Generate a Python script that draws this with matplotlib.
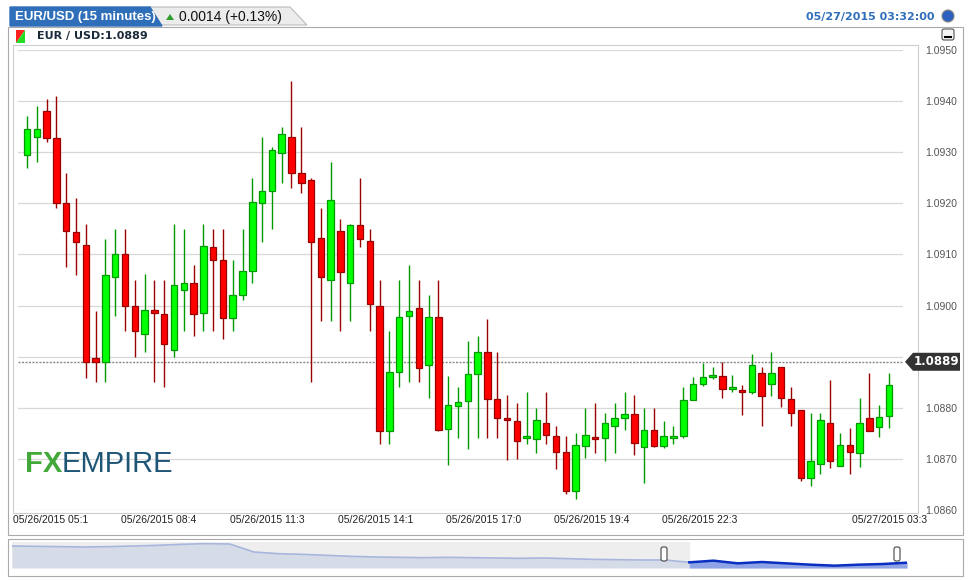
import matplotlib
matplotlib.use("Agg")
import matplotlib.pyplot as plt
from matplotlib.patches import Rectangle, Polygon, FancyBboxPatch, Circle

opens = [1.09295,1.0933,1.0938,1.09328,1.0920,1.09143,1.09118,1.08898,1.0889,1.09055,1.0910,1.0900,1.08945,1.08992,1.08984,1.08914,1.0903,1.09045,1.08986,1.09114,1.0909,1.08976,1.0902,
         1.09067,1.0920,1.09225,1.09298,1.09329,1.09259,1.09246,1.09133,1.0905,1.09145,1.09044,1.09157,1.09127,1.0900,1.08755,1.0887,1.0898,1.08996,1.08884,1.08978,1.08759,1.08804,1.08814,
         1.08867,1.0891,1.08817,1.0878,1.08774,1.0874,1.08739,1.0877,1.08745,1.08714,1.08638,1.08726,1.0874,1.0874,1.08764,1.0878,1.08787,1.08723,1.08756,1.08725,1.0874,1.08745,
         1.08815,1.08846,1.0886,1.08863,1.08836,1.08834,1.0883,1.08869,1.08846,1.08879,1.08818,1.08795,1.08663,1.0869,1.0877,1.08686,1.08727,1.08712,1.0878,1.08762,1.08784]
closes = [1.09345,1.09345,1.09328,1.0920,1.09145,1.09124,1.0889,1.0889,1.0906,1.0910,1.0900,1.0895,1.08992,1.08986,1.08924,1.0904,1.09045,1.08984,1.09116,1.0909,1.08976,1.0902,1.09067,
          1.09202,1.09225,1.09304,1.09335,1.09259,1.0924,1.09124,1.09055,1.09206,1.09065,1.09157,1.0913,1.09003,1.08755,1.0887,1.08978,1.0899,1.08878,1.08978,1.08757,1.08806,1.08812,1.08867,
          1.0891,1.08818,1.0878,1.08776,1.08735,1.08741,1.08776,1.08747,1.08714,1.08638,1.08727,1.08747,1.08739,1.0877,1.0878,1.08787,1.08731,1.08756,1.08725,1.08745,1.08745,1.08815,
          1.08846,1.0886,1.08865,1.08836,1.0884,1.0883,1.08884,1.08824,1.08869,1.0882,1.08789,1.08663,1.08696,1.08776,1.08696,1.08727,1.08714,1.0877,1.08754,1.08782,1.08844]
highs = [1.0937,1.0939,1.09405,1.0941,1.0926,1.0921,1.0916,1.0899,1.0913,1.0915,1.0915,1.0905,1.09061,1.0905,1.0905,1.0916,1.0915,1.0908,1.0916,1.0915,1.0915,1.0909,1.0915,
         1.0925,1.0933,1.0931,1.0935,1.0944,1.0935,1.0925,1.0919,1.0928,1.0917,1.0916,1.0925,1.0915,1.0905,1.0895,1.0905,1.0908,1.0905,1.0902,1.0905,1.08863,1.0884,1.0893,
         1.0894,1.08974,1.0891,1.08825,1.0881,1.0883,1.0880,1.0883,1.08765,1.08745,1.0875,1.0880,1.0881,1.0879,1.0881,1.0883,1.08825,1.0880,1.0880,1.08775,1.08765,1.0884,
         1.0886,1.08888,1.0888,1.0889,1.08865,1.08844,1.08905,1.0888,1.08909,1.08879,1.0884,1.08795,1.0879,1.0879,1.08855,1.08751,1.0876,1.0882,1.08869,1.08805,1.08869]
lows = [1.0927,1.0928,1.0932,1.0919,1.09075,1.0906,1.08858,1.0885,1.0885,1.0898,1.0895,1.0890,1.0891,1.0885,1.0884,1.0890,1.0895,1.0894,1.0895,1.0895,1.08935,1.0895,1.0901,
        1.09044,1.09125,1.0915,1.0924,1.0923,1.0922,1.0885,1.0897,1.0897,1.0895,1.0897,1.09114,1.0895,1.0873,1.0873,1.0884,1.0885,1.0885,1.0882,1.08754,1.08688,1.0874,1.0872,
        1.08741,1.08741,1.08741,1.08697,1.0870,1.0873,1.08712,1.0873,1.08681,1.08631,1.08622,1.08702,1.08712,1.08696,1.08712,1.08756,1.08707,1.08652,1.08723,1.08721,1.0873,1.0874,
        1.08815,1.08843,1.08856,1.0882,1.0883,1.08785,1.08826,1.08765,1.08824,1.08801,1.08765,1.08657,1.08647,1.0867,1.08683,1.08686,1.08671,1.08684,1.08754,1.08743,1.0876]

yticks = [1.0860,1.0870,1.0880,1.0890,1.0900,1.0910,1.0920,1.0930,1.0940,1.0950]
ytick_labels = ["1.0860","1.0870","1.0880","","1.0900","1.0910","1.0920","1.0930","1.0940","1.0950"]
time_labels = ["05/26/2015 05:1","05/26/2015 08:4","05/26/2015 11:3","05/26/2015 14:1",
               "05/26/2015 17:0","05/26/2015 19:4","05/26/2015 22:3","05/27/2015 03:3"]
time_label_idx = [-1.4, 9.6, 20.7, 31.7, 42.8, 53.8, 64.8, 84.2]
last_price = 1.0889
overview = [1.0978,1.0977,1.0976,1.0975,1.0976,1.0978,1.0980,1.0983,1.0985,1.0984,1.0960,1.0955,1.0953,
            1.0950,1.0947,1.0945,1.0944,1.0943,1.0944,1.0943,1.0942,1.0941,1.0942,1.0940,1.0938,1.0937,1.0936,
            1.0936,1.0929,1.0934,1.0926,1.0930,1.0926,1.0922,1.0919,1.0922,1.0924,1.0928]
ov_sel_start = 28

W, H = 970, 581
fig = plt.figure(figsize=(W/100, H/100), dpi=100)
bg = fig.add_axes([0, 0, 1, 1])
bg.set_xlim(0, W); bg.set_ylim(H, 0); bg.axis("off")

# header
bg.add_patch(Polygon([[150,7],[290,7],[307,25],[150,25]], closed=True, fc="#ececec", ec="#bbbbbb", lw=0.8))
bg.add_patch(Polygon([[10,7],[150,7],[162,26],[10,26]], closed=True, fc="#2f6fba", ec="#2f6fba", zorder=3))
bg.text(15, 17, "EUR/USD (15 minutes)", color="white", fontsize=9.5, fontweight="bold", va="center", family="Liberation Sans", zorder=4)
bg.add_patch(Polygon([[166,20],[174,20],[170,14]], closed=True, fc="#2e9e2e", ec="none"))
bg.text(179, 17, "0.0014 (+0.13%)", color="#111111", fontsize=10, va="center", family="Liberation Sans")
bg.text(935, 17, "05/27/2015 03:32:00", color="#2f6fba", fontsize=8, va="center", ha="right", fontweight="bold")
bg.add_patch(Circle((948, 16), 6, fc="#2f5fbf", ec="#888888", lw=0.8))
# main panel
bg.add_patch(Rectangle((8, 27), 955, 508, fc="white", ec="#aaaaaa", lw=0.8))
bg.add_patch(Rectangle((13, 45), 905, 468, fc="white", ec="#cccccc", lw=0.8))
bg.add_patch(Polygon([[16,30],[25,30],[16,43]], closed=True, fc="#ff2020", ec="none"))
bg.add_patch(Polygon([[25,30],[25,43],[16,43]], closed=True, fc="#22dd22", ec="none"))
bg.text(37, 36, "EUR / USD:1.0889", color="#1a2a3a", fontsize=8, fontweight="bold", va="center")
bg.add_patch(FancyBboxPatch((942, 29), 12, 11, boxstyle="round,pad=0,rounding_size=2", fc="#f5f5f5", ec="#555555", lw=0.8))
bg.plot([945, 951], [37, 37], color="black", lw=1.5)
for lab, ix in zip(time_labels, time_label_idx):
    bg.text(27 + ix*9.795, 520, lab, fontsize=7.5, color="#222222", va="center", ha="left", family="Liberation Sans")
# navigator panel
bg.add_patch(Rectangle((8, 539), 955, 37, fc="white", ec="#aaaaaa", lw=0.8))

ax = fig.add_axes([18/W, 1-510/H, (903-18)/W, (510-50)/H])
ax.set_facecolor("white")
n = len(opens)
for i in range(n):
    o, c, h, l = opens[i], closes[i], highs[i], lows[i]
    up = c >= o
    fc = "#00ff00" if up else "#ff0000"
    ec = "#009900" if up else "#990000"
    ax.vlines(i, l, h, color=ec, lw=1.0, zorder=2)
    lo = min(o, c); hgt = max(abs(c-o), 0.00004)
    ax.add_patch(Rectangle((i-0.33, lo), 0.66, hgt, fc=fc, ec=ec, lw=0.9, zorder=3))
ax.set_xlim(-0.92, 89.43)
ax.set_ylim(1.0860, 1.0950)
for y in yticks:
    ax.axhline(y, color="#d8d8d8", lw=0.9, zorder=0)
ax.axhline(last_price, color="#888888", lw=1.0, ls=(0, (1.5, 1)), zorder=1)
for s in ax.spines.values():
    s.set_visible(False)
ax.set_xticks([]); ax.set_yticks(yticks)
ax.yaxis.tick_right()
ax.set_yticklabels(ytick_labels, fontsize=7.5, color="#555555", family="Liberation Sans")
ax.tick_params(axis="y", length=0, pad=16)
# logo
ax.text(0.008, 0.1, "FX", transform=ax.transAxes, fontsize=21, fontweight="bold", color="#43a83a", va="center", family="Liberation Sans")
ax.text(0.049, 0.1, "EMPIRE", transform=ax.transAxes, fontsize=21, color="#1f5676", va="center", family="Liberation Sans")

# navigator
nav = fig.add_axes([12/W, 1-568/H, (907-12)/W, 26/H])
xs = list(range(len(overview)))
nav.axvspan(0, ov_sel_start, color="#eeeeee", zorder=0)
nav.fill_between(xs, overview, 1.0912, color="#d6dbe8", lw=0)
nav.plot(xs[:ov_sel_start+1], overview[:ov_sel_start+1], color="#a8b6dd", lw=1.2)
nav.fill_between(xs[ov_sel_start:], overview[ov_sel_start:], 1.0912, color="#8ea4e6", lw=0, zorder=2)
nav.plot(xs[ov_sel_start:], overview[ov_sel_start:], color="#0a2fc0", lw=1.8, zorder=3)
nav.set_xlim(0, len(overview)-1); nav.set_ylim(1.0912, 1.0990)
nav.axis("off")

# top overlay: price tag and navigator handles
top = fig.add_axes([0, 0, 1, 1], zorder=10)
top.set_xlim(0, W); top.set_ylim(H, 0); top.axis("off"); top.patch.set_alpha(0)
yp = 50 + (1.0950 - last_price) / 0.009 * 460
top.add_patch(Polygon([[905, yp], [913, yp-9], [960, yp-9], [960, yp+9], [913, yp+9]], closed=True, fc="#333333", ec="none"))
top.text(937, yp, "1.0889", color="white", fontsize=8.5, fontweight="bold", va="center", ha="center")
for hx in [664, 897]:
    top.add_patch(FancyBboxPatch((hx-3, 547), 6, 14, boxstyle="round,pad=0,rounding_size=2", fc="white", ec="#444444", lw=0.8))

fig.savefig("out.png", dpi=100)
